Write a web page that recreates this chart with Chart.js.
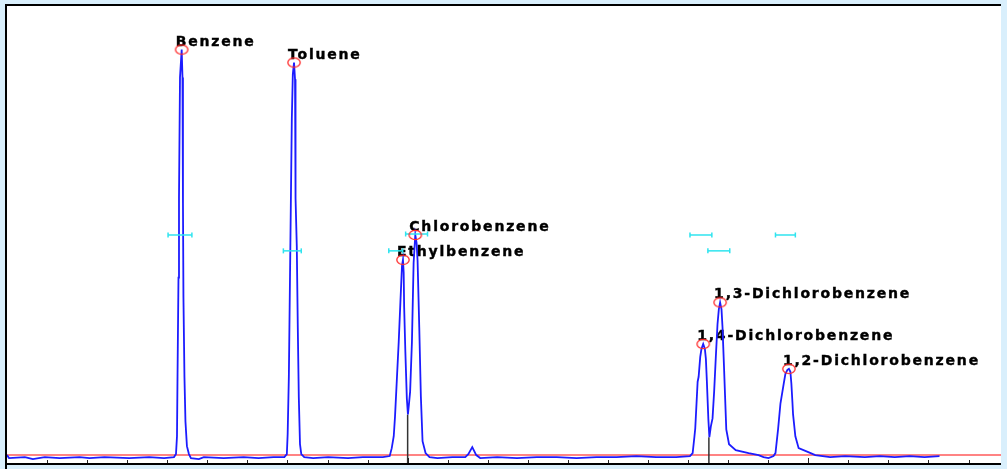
<!DOCTYPE html>
<html>
<head>
<meta charset="utf-8">
<script src="https://cdn.jsdelivr.net/npm/chart.js@4.4.1/dist/chart.umd.min.js"></script>
<style>
html, body { margin: 0; padding: 0; background: #d9effc; overflow: hidden; width: 100%; height: 100%; }
#wrap { position: fixed; left: 0; top: 0; width: 100vw; height: 100vh; }
canvas { display: block; }
</style>
</head>
<body>
<div id="wrap"><canvas id="chromChart"></canvas></div>
<script>
// retention time (min) and detector signal
var traceTime = [
    0.000, 0.050, 0.447, 0.645, 0.943, 1.315, 1.811, 2.060, 2.432, 3.052, 3.548, 3.921, 4.169,
    4.218, 4.243, 4.256, 4.280, 4.293, 4.318, 4.360, 4.380, 4.392, 4.404, 4.429, 4.454, 4.491, 4.541, 4.591,
    4.789, 4.913, 5.409, 5.906, 6.278, 6.650, 6.923,
    6.985, 7.005, 7.035, 7.072, 7.109, 7.134, 7.164, 7.189, 7.196, 7.208, 7.233, 7.258, 7.283, 7.313, 7.345, 7.419,
    7.643, 8.015, 8.511, 8.883, 9.380, 9.553,
    9.603, 9.653, 9.685, 9.734, 9.777, 9.819, 9.859, 9.883, 9.901, 9.913, 9.943, 9.980, 10.007,
    10.032, 10.062, 10.107, 10.149, 10.191, 10.223, 10.248, 10.290, 10.330, 10.372, 10.447, 10.546,
    10.744, 11.117, 11.439,
    11.514, 11.613, 11.712, 11.811,
    12.233, 12.730, 13.226, 13.722, 14.218, 14.715, 15.211, 15.707, 16.203, 16.700, 17.047,
    17.114, 17.159, 17.179, 17.238, 17.263, 17.303, 17.333, 17.377, 17.419, 17.444, 17.469, 17.506, 17.531,
    17.568, 17.610, 17.650, 17.692, 17.734, 17.767, 17.799, 17.834, 17.859, 17.898, 17.923, 17.953,
    18.022, 18.189, 18.511, 18.759, 18.883, 19.007, 19.132,
    19.181, 19.248, 19.305, 19.387, 19.429, 19.479, 19.516, 19.553, 19.578, 19.603, 19.620, 19.677,
    19.759, 20.000, 20.174,
    20.546, 20.918, 21.414, 21.787, 22.159, 22.531, 22.903, 23.275
];
var traceSignal = [
    0, -3, -2, -4, -2, -3, -2, -3, -2, -3, -2, -3, -2,
    1, 19, 79, 179, 259, 381, 409, 381, 254, 159, 79, 34, 9, 1, -3,
    -4, -2, -3, -2, -3, -2, -2,
    1, 21, 79, 209, 339, 384, 396, 379, 344, 259, 211, 129, 59, 11, 1, -2,
    -3, -2, -3, -2, -2, -1,
    7, 19, 39, 79, 114, 154, 191, 197, 184, 149, 104, 57, 41,
    51, 64, 114, 194, 222, 214, 196, 129, 59, 14, 2, -2,
    -3, -2, -2,
    1, 8, 0, -3,
    -2, -3, -2, -2, -3, -2, -2, -1, -2, -2, -1,
    2, 19, 27, 74, 79, 99, 107, 112, 107, 97, 74, 36, 18,
    29, 37, 64, 99, 132, 147, 154, 147, 129, 87, 59, 26,
    11, 5, 2, 0, -2, -3, -1,
    2, 27, 52, 72, 82, 86, 87, 84, 72, 54, 41, 19,
    7, 3, 0,
    -2, -1, -2, -1, -2, -1, -2, -1
];

var peakNames = ["Benzene", "Toluene", "Ethylbenzene", "Chlorobenzene",
    "1,4-Dichlorobenzene", "1,3-Dichlorobenzene", "1,2-Dichlorobenzene"];
var peakTime = [4.360, 7.164, 9.883, 10.191, 17.377, 17.799, 19.516];
var peakHeight = [409, 396, 197, 222, 112, 154, 87];

// retention windows (cyan bars)
var windowStart = [4.020, 6.898, 9.529, 9.950, 17.047, 17.494, 19.181];
var windowEnd = [4.615, 7.345, 9.876, 10.496, 17.593, 18.040, 19.677];
var windowLevel = [222, 206, 206, 223, 222, 206, 222];

// peak split drop lines
var dropTime = [10.000, 17.519];
var dropTop = [41, 18];

var minorTicks = [1, 2, 3, 4, 5, 6, 7, 8, 9, 10, 11, 12, 13, 14, 15, 16, 17, 18, 19, 20, 21, 22, 23, 24];
var majorTicks = [10, 20];

var timeMin = 0, timeMax = 24.81;
var signalMin = -8, signalMax = 453;

// red ellipse used as the peak apex marker
var ring = document.createElement("canvas");
ring.width = 16;
ring.height = 12;
var rctx = ring.getContext("2d");
rctx.strokeStyle = "#ff2a2a";
rctx.lineWidth = 1.3;
rctx.beginPath();
rctx.ellipse(8, 6, 6.2, 4.6, 0, 0, 2 * Math.PI);
rctx.stroke();

var datasets = [];

datasets.push({
    data: traceTime.map(function (t, i) { return { x: t, y: traceSignal[i] }; }),
    showLine: true,
    borderColor: "#1c1cff",
    borderWidth: 1.8,
    pointRadius: 0,
    tension: 0,
    order: 2,
});

datasets.push({
    data: [{ x: timeMin, y: 0 }, { x: timeMax, y: 0 }],
    showLine: true,
    borderColor: "#ff5a5a",
    borderWidth: 1.6,
    pointRadius: 0,
    order: 5,
});

for (var d = 0; d < dropTime.length; d++) {
    datasets.push({
        data: [{ x: dropTime[d], y: dropTop[d] }, { x: dropTime[d], y: signalMin }],
        showLine: true,
        borderColor: "#333333",
        borderWidth: 1.5,
        pointRadius: 0,
        order: 4,
    });
}

for (var w = 0; w < windowStart.length; w++) {
    datasets.push({
        data: [{ x: windowStart[w], y: windowLevel[w] }, { x: windowEnd[w], y: windowLevel[w] }],
        showLine: true,
        borderColor: "#2fe4ef",
        borderWidth: 1.5,
        pointStyle: "line",
        pointRotation: 90,
        pointRadius: 2.5,
        pointBorderColor: "#2fe4ef",
        pointBorderWidth: 1.5,
        order: 1,
    });
}

datasets.push({
    data: peakTime.map(function (t, i) { return { x: t, y: peakHeight[i] }; }),
    showLine: false,
    pointStyle: ring,
    pointRadius: 5,
    order: 0,
});

var framePlugin = {
    id: "frame",
    beforeDraw: function (chart) {
        var ctx = chart.ctx;
        var a = chart.chartArea;
        ctx.save();
        ctx.fillStyle = "#d9effc";
        ctx.fillRect(0, 0, chart.width, chart.height);
        ctx.fillStyle = "#ffffff";
        ctx.fillRect(a.left, a.top, a.right - a.left, a.bottom - a.top);
        ctx.restore();
    },
    afterDraw: function (chart) {
        var ctx = chart.ctx;
        var a = chart.chartArea;
        var xs = chart.scales.x;
        ctx.save();
        ctx.fillStyle = "#000000";
        ctx.fillRect(a.left - 2, a.top - 2, a.right - a.left + 2, 2);
        ctx.fillRect(a.left - 2, a.top - 2, 2, chart.height);
        ctx.fillRect(a.left - 2, a.bottom, a.right - a.left + 2, 2);
        ctx.strokeStyle = "#222222";
        ctx.lineWidth = 1;
        minorTicks.forEach(function (t) {
            var px = Math.round(xs.getPixelForValue(t)) + 0.5;
            var len = majorTicks.indexOf(t) >= 0 ? 5 : 3;
            ctx.beginPath();
            ctx.moveTo(px, a.bottom);
            ctx.lineTo(px, a.bottom - len);
            ctx.stroke();
        });
        ctx.restore();
    },
};

var labelPlugin = {
    id: "peakLabels",
    beforeDatasetsDraw: function (chart) {
        var ctx = chart.ctx;
        var xs = chart.scales.x;
        var ys = chart.scales.y;
        ctx.save();
        ctx.font = 'bold 14px "DejaVu Sans"';
        ctx.letterSpacing = "1.8px";
        ctx.fillStyle = "#000000";
        ctx.strokeStyle = "#000000";
        ctx.lineWidth = 0.4;
        ctx.textAlign = "left";
        ctx.textBaseline = "alphabetic";
        peakNames.forEach(function (name, i) {
            var px = xs.getPixelForValue(peakTime[i]);
            var py = ys.getPixelForValue(peakHeight[i]);
            ctx.fillText(name, px - 6, py - 4);
            ctx.strokeText(name, px - 6, py - 4);
        });
        ctx.restore();
    },
};

var ctx = document.getElementById("chromChart").getContext("2d");

var chromChart = new Chart(ctx, {
    type: "scatter",
    data: { datasets: datasets },
    options: {
        responsive: true,
        maintainAspectRatio: false,
        animation: false,
        devicePixelRatio: 1,
        events: [],
        layout: { padding: { left: 7, top: 6, right: 0, bottom: 2 } },
        plugins: {
            legend: { display: false },
            tooltip: { enabled: false },
        },
        scales: {
            x: { type: "linear", display: false, min: timeMin, max: timeMax },
            y: { type: "linear", display: false, min: signalMin, max: signalMax },
        },
    },
    plugins: [framePlugin, labelPlugin],
});
</script>
</body>
</html>
